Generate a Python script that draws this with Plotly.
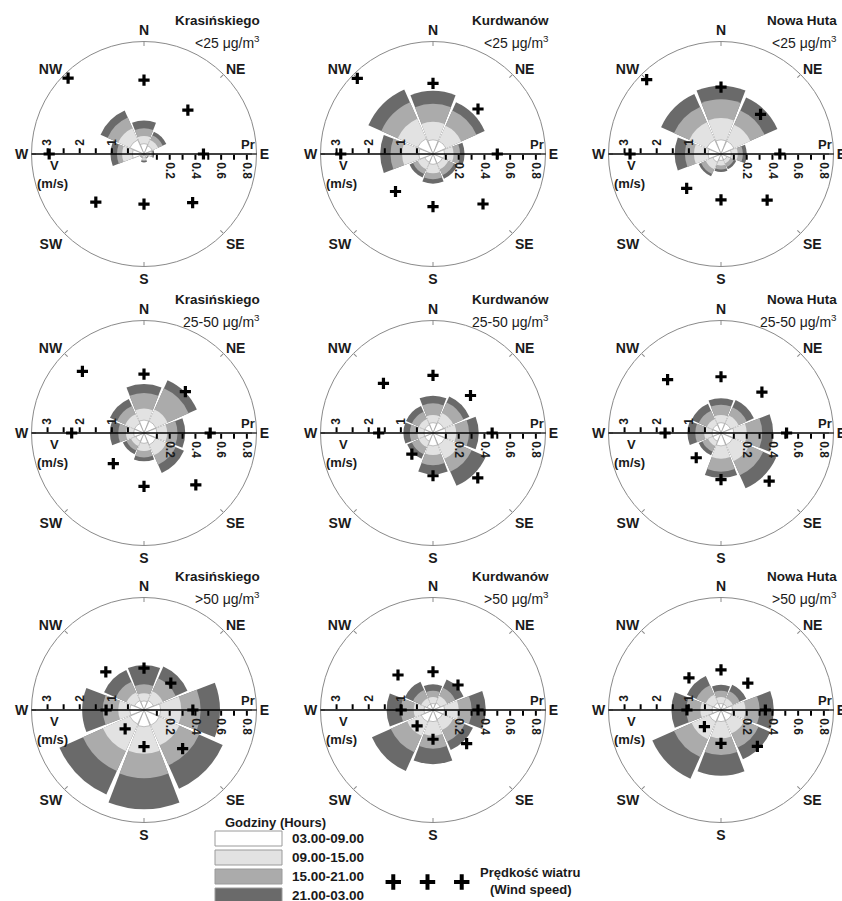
import plotly.graph_objects as go

FIG_W, FIG_H = 842, 901
FONT = "Liberation Sans, Arial, sans-serif"

directions = ["N", "NE", "E", "SE", "S", "SW", "W", "NW"]
dir_deg = [0, 45, 90, 135, 180, 225, 270, 315]
stations = ["Krasińskiego", "Kurdwanów", "Nowa Huta"]
pm_classes = ["<25 μg/m<sup>3</sup>", "25-50 μg/m<sup>3</sup>", ">50 μg/m<sup>3</sup>"]
hours = ["03.00-09.00", "09.00-15.00", "15.00-21.00", "21.00-03.00"]
hour_colors = ["#ffffff", "#e2e2e2", "#ababab", "#6a6a6a"]

pr_ticks = [0.1, 0.2, 0.3, 0.4, 0.5, 0.6, 0.7, 0.8]
pr_labels = ["", "0.2", "", "0.4", "", "0.6", "", "0.8"]
v_ticks = [0.5, 1, 1.5, 2, 2.5, 3]
v_labels = ["", "1", "", "2", "", "3"]

# Cumulative frequency (Pr) at the outer edge of each hour band, directions N..NW
# Krasińskiego <25
kra_lt25_0309 = [0.08, 0.07, 0.04, 0.02, 0.03, 0.02, 0.09, 0.12]
kra_lt25_0915 = [0.14, 0.12, 0.06, 0.03, 0.045, 0.025, 0.17, 0.22]
kra_lt25_1521 = [0.20, 0.16, 0.07, 0.035, 0.055, 0.03, 0.21, 0.31]
kra_lt25_2103 = [0.26, 0.19, 0.08, 0.04, 0.065, 0.035, 0.26, 0.37]
kra_lt25_wind = [2.3, 1.93, 1.85, 2.14, 1.56, 2.12, 2.95, 3.34]
# Kurdwanów <25
kur_lt25_0309 = [0.11, 0.11, 0.09, 0.08, 0.08, 0.07, 0.11, 0.13]
kur_lt25_0915 = [0.25, 0.24, 0.16, 0.13, 0.15, 0.13, 0.24, 0.30]
kur_lt25_1521 = [0.39, 0.37, 0.21, 0.18, 0.195, 0.17, 0.33, 0.44]
kur_lt25_2103 = [0.49, 0.44, 0.245, 0.21, 0.23, 0.20, 0.41, 0.55]
kur_lt25_wind = [2.2, 1.98, 2.0, 2.2, 1.64, 1.65, 2.87, 3.33]
# Nowa Huta <25
nh_lt25_0309 = [0.11, 0.11, 0.08, 0.05, 0.05, 0.07, 0.10, 0.12]
nh_lt25_0915 = [0.28, 0.25, 0.13, 0.08, 0.09, 0.13, 0.21, 0.27]
nh_lt25_1521 = [0.425, 0.37, 0.17, 0.11, 0.12, 0.17, 0.28, 0.40]
nh_lt25_2103 = [0.53, 0.48, 0.20, 0.13, 0.14, 0.19, 0.36, 0.51]
nh_lt25_wind = [2.08, 1.74, 1.83, 2.03, 1.43, 1.51, 2.83, 3.27]
# Krasińskiego 25-50
kra_mid_0309 = [0.10, 0.10, 0.10, 0.10, 0.08, 0.07, 0.08, 0.08]
kra_mid_0915 = [0.19, 0.20, 0.18, 0.19, 0.14, 0.11, 0.14, 0.16]
kra_mid_1521 = [0.31, 0.38, 0.26, 0.27, 0.19, 0.15, 0.20, 0.23]
kra_mid_2103 = [0.38, 0.45, 0.32, 0.34, 0.22, 0.18, 0.265, 0.29]
kra_mid_wind = [1.83, 1.82, 2.06, 2.28, 1.66, 1.35, 2.25, 2.71]
# Kurdwanów 25-50
kur_mid_0309 = [0.08, 0.09, 0.10, 0.10, 0.10, 0.07, 0.07, 0.07]
kur_mid_0915 = [0.14, 0.17, 0.18, 0.22, 0.17, 0.12, 0.12, 0.12]
kur_mid_1521 = [0.23, 0.26, 0.28, 0.33, 0.25, 0.18, 0.18, 0.18]
kur_mid_2103 = [0.29, 0.31, 0.355, 0.45, 0.32, 0.22, 0.23, 0.23]
kur_mid_wind = [1.79, 1.65, 1.84, 1.97, 1.33, 0.93, 1.69, 2.18]
# Nowa Huta 25-50
nh_mid_0309 = [0.08, 0.08, 0.10, 0.10, 0.10, 0.07, 0.07, 0.07]
nh_mid_0915 = [0.14, 0.15, 0.20, 0.24, 0.20, 0.11, 0.13, 0.12]
nh_mid_1521 = [0.22, 0.22, 0.32, 0.36, 0.30, 0.16, 0.20, 0.19]
nh_mid_2103 = [0.27, 0.28, 0.405, 0.47, 0.35, 0.19, 0.26, 0.25]
nh_mid_wind = [1.75, 1.8, 2.04, 2.12, 1.45, 1.09, 1.74, 2.35]
# Krasińskiego >50
kra_gt50_0309 = [0.07, 0.08, 0.13, 0.13, 0.13, 0.12, 0.11, 0.08]
kra_gt50_0915 = [0.13, 0.16, 0.29, 0.30, 0.34, 0.35, 0.20, 0.15]
kra_gt50_1521 = [0.20, 0.27, 0.44, 0.47, 0.53, 0.52, 0.32, 0.24]
kra_gt50_2103 = [0.35, 0.37, 0.59, 0.67, 0.77, 0.72, 0.48, 0.34]
kra_gt50_wind = [1.3, 1.18, 1.52, 1.7, 1.14, 0.83, 1.18, 1.68]
# Kurdwanów >50
kur_gt50_0309 = [0.05, 0.06, 0.09, 0.08, 0.09, 0.10, 0.07, 0.05]
kur_gt50_0915 = [0.10, 0.12, 0.20, 0.17, 0.20, 0.22, 0.15, 0.10]
kur_gt50_1521 = [0.15, 0.19, 0.30, 0.27, 0.30, 0.36, 0.25, 0.17]
kur_gt50_2103 = [0.20, 0.26, 0.41, 0.34, 0.42, 0.52, 0.36, 0.24]
kur_gt50_wind = [1.19, 1.1, 1.4, 1.48, 0.91, 0.7, 0.99, 1.54]
# Nowa Huta >50
nh_gt50_0309 = [0.05, 0.05, 0.09, 0.09, 0.09, 0.10, 0.07, 0.06]
nh_gt50_0915 = [0.10, 0.10, 0.19, 0.20, 0.22, 0.25, 0.16, 0.13]
nh_gt50_1521 = [0.15, 0.16, 0.30, 0.32, 0.35, 0.40, 0.27, 0.21]
nh_gt50_2103 = [0.195, 0.215, 0.41, 0.42, 0.51, 0.585, 0.385, 0.29]
nh_gt50_wind = [1.25, 1.18, 1.38, 1.6, 1.04, 0.73, 1.06, 1.41]

panels = [
    (0, 0, [kra_lt25_0309, kra_lt25_0915, kra_lt25_1521, kra_lt25_2103], kra_lt25_wind),
    (1, 0, [kur_lt25_0309, kur_lt25_0915, kur_lt25_1521, kur_lt25_2103], kur_lt25_wind),
    (2, 0, [nh_lt25_0309, nh_lt25_0915, nh_lt25_1521, nh_lt25_2103], nh_lt25_wind),
    (0, 1, [kra_mid_0309, kra_mid_0915, kra_mid_1521, kra_mid_2103], kra_mid_wind),
    (1, 1, [kur_mid_0309, kur_mid_0915, kur_mid_1521, kur_mid_2103], kur_mid_wind),
    (2, 1, [nh_mid_0309, nh_mid_0915, nh_mid_1521, nh_mid_2103], nh_mid_wind),
    (0, 2, [kra_gt50_0309, kra_gt50_0915, kra_gt50_1521, kra_gt50_2103], kra_gt50_wind),
    (1, 2, [kur_gt50_0309, kur_gt50_0915, kur_gt50_1521, kur_gt50_2103], kur_gt50_wind),
    (2, 2, [nh_gt50_0309, nh_gt50_0915, nh_gt50_1521, nh_gt50_2103], nh_gt50_wind),
]

PR_MAX = 0.875
V_MAX = 3.5
R = 112.5
col_cx = [144, 433, 721]
row_cy = [154, 433, 710]


def px(x):
    return x / FIG_W


def py(y):
    return 1 - y / FIG_H


def note(x, y, text, size=13, anchor="center"):
    return dict(x=px(x), y=py(y), xref="paper", yref="paper", text=text,
                xanchor=anchor, yanchor="middle", showarrow=False,
                font=dict(family=FONT, size=size, color="#1a1a1a"))


fig = go.Figure()
layout = {}
annotations = []
shapes = []

for i, (st, cl, bands, wind) in enumerate(panels):
    cx, cy = col_cx[st], row_cy[cl]
    dom = dict(x=[px(cx - R), px(cx + R)], y=[py(cy + R), py(cy - R)])
    pa = "polar" if i == 0 else f"polar{2 * i + 1}"
    pb = f"polar{2 * i + 2}"

    layout[pa] = dict(
        domain=dom, bgcolor="rgba(0,0,0,0)", barmode="overlay",
        angularaxis=dict(rotation=90, direction="clockwise", tickmode="array",
                         tickvals=dir_deg, ticktext=directions, showgrid=False,
                         showline=True, linecolor="#8a8a8a", linewidth=1,
                         ticks="inside", ticklen=4, tickcolor="#8a8a8a",
                         tickfont=dict(family=FONT, size=14, color="#1a1a1a", weight="bold")),
        radialaxis=dict(range=[0, PR_MAX], angle=0, side="clockwise", showgrid=False,
                        showline=True, linecolor="black", linewidth=1.5,
                        tickmode="array", tickvals=pr_ticks, ticktext=pr_labels,
                        ticks="outside", ticklen=5, tickwidth=1.5, tickcolor="black",
                        tickangle=90,
                        tickfont=dict(family=FONT, size=12, color="#1a1a1a", weight="bold")),
    )
    layout[pb] = dict(
        domain=dom, bgcolor="rgba(0,0,0,0)",
        angularaxis=dict(rotation=90, direction="clockwise", visible=False),
        radialaxis=dict(range=[0, V_MAX], angle=180, side="clockwise", showgrid=False,
                        showline=True, linecolor="black", linewidth=1.5,
                        tickmode="array", tickvals=v_ticks, ticktext=v_labels,
                        ticks="outside", ticklen=5, tickwidth=1.5, tickcolor="black",
                        tickangle=90,
                        tickfont=dict(family=FONT, size=12, color="#1a1a1a", weight="bold")),
    )

    for k in [3, 2, 1, 0]:
        fig.add_trace(go.Barpolar(
            r=bands[k], theta=dir_deg, width=42, subplot=pa, showlegend=False,
            name=hours[k],
            marker=dict(color=hour_colors[k],
                        line=dict(width=0.6 if k == 0 else 0, color="#9a9a9a")),
        ))
    fig.add_trace(go.Scatterpolar(
        r=wind, theta=dir_deg, mode="markers", subplot=pb, showlegend=False,
        name="Prędkość wiatru",
        marker=dict(symbol="cross-thin", size=8, color="black",
                    line=dict(width=3.2, color="black")),
    ))

    annotations += [
        note(cx + 118, cy - 134, f"<b>{stations[st]}</b>", 13.5, "right"),
        note(cx + 118, cy - 112, pm_classes[cl], 14, "right"),
        note(cx + 104, cy - 10, "<b>Pr</b>", 13),
        note(cx - 90, cy + 11, "<b>V</b>", 13),
        note(cx - 92, cy + 29, "<b>(m/s)</b>", 13),
    ]

# legend (hours)
annotations.append(note(275, 822, "<b>Godziny (Hours)</b>", 13))
row_tops = [831, 850, 869, 888]
for k in range(4):
    y0 = row_tops[k]
    shapes.append(dict(type="rect", xref="paper", yref="paper",
                       x0=px(215), x1=px(282), y0=py(y0 + 15), y1=py(y0),
                       fillcolor=hour_colors[k], line=dict(color="#9a9a9a", width=1)))
    annotations.append(note(290, y0 + 7.5, f"<b>{hours[k]}</b>", 13.5, "left"))

annotations += [
    note(530, 872, "<b>Prędkość wiatru</b>", 13),
    note(531, 889, "<b>(Wind speed)</b>", 13),
]

# legend symbols for wind speed on a hidden cartesian axis
legend_pos = [0, 1, 2]
fig.add_trace(go.Scatter(
    x=legend_pos, y=[0, 0, 0], mode="markers", showlegend=False, xaxis="x", yaxis="y",
    marker=dict(symbol="cross-thin", size=11, color="black", line=dict(width=4, color="black")),
))
layout["xaxis"] = dict(domain=[px(383), px(472)], range=[-0.3, 2.3], visible=False, fixedrange=True)
layout["yaxis"] = dict(domain=[py(892), py(872)], range=[-1, 1], visible=False, fixedrange=True)

fig.update_layout(
    width=FIG_W, height=FIG_H, autosize=False,
    margin=dict(l=0, r=0, t=0, b=0),
    paper_bgcolor="white", plot_bgcolor="rgba(0,0,0,0)",
    showlegend=False,
    annotations=annotations, shapes=shapes,
    **layout,
)

fig.write_html("out.html", config={"displayModeBar": False},
               post_script="document.body.style.margin='0px';")
